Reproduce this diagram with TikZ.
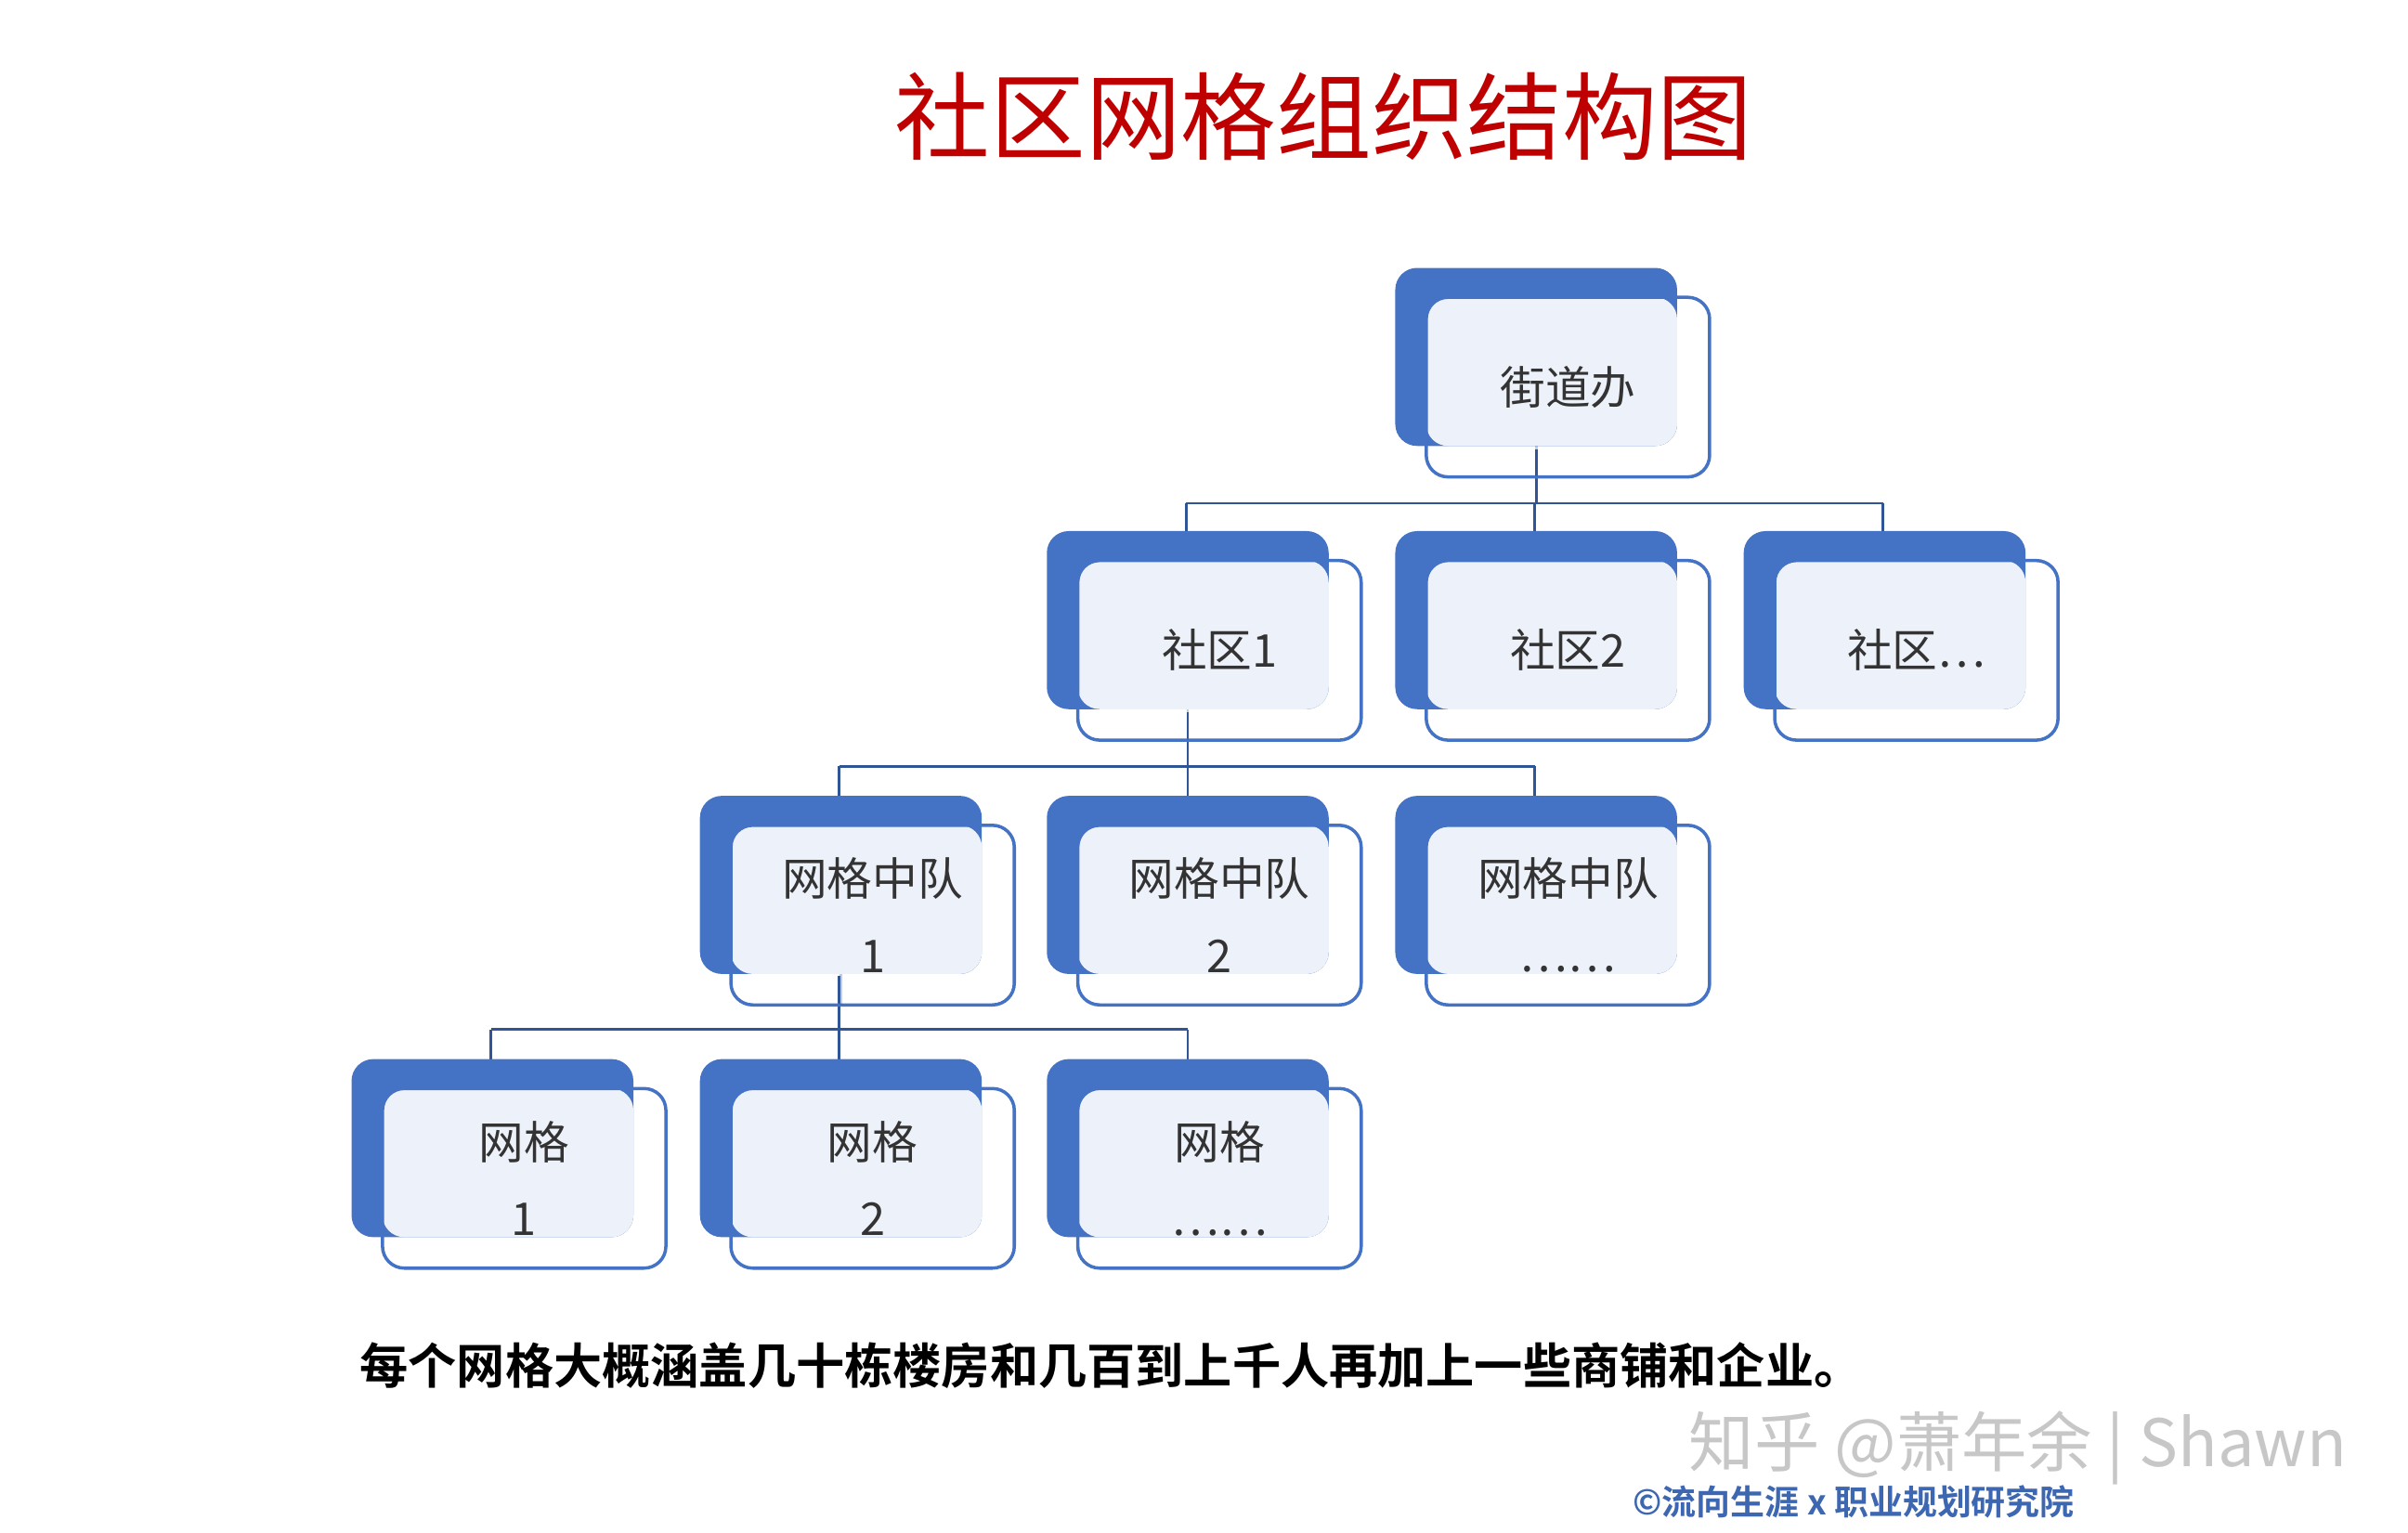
\documentclass[tikz,border=0pt]{standalone}
\usepackage{fontspec}
\setmainfont{Noto Sans CJK SC}
\newfontfamily\cjkb[BoldFont={Noto Sans CJK SC Bold}]{Noto Sans CJK SC}
\definecolor{bb}{HTML}{4472C4}
\definecolor{lf}{HTML}{EDF1F9}
\definecolor{ln}{HTML}{2F5597}
\tikzset{bar/.style={draw=ln,line width=0.5pt}}
\newcommand{\gbox}[4]{% name, x back, y back, text
  \fill[bb,rounded corners=4pt] (#2,#3) rectangle ++(182,115);
  \fill[lf,rounded corners=4pt] (#2+20,#3+19) rectangle ++(162,96);
  \draw[bb,line width=0.6pt,rounded corners=4pt] (#2+20,#3+19) rectangle ++(183,116);
  \node[font=\fontsize{8.3pt}{14pt}\selectfont,align=center,text=black!80] (#1) at (#2+111.5,#3+77) {#4};
  \coordinate (#1t) at (#2+91,#3);
  \coordinate (#1b) at (#2+91,#3+115);
}
\begin{document}
\begin{tikzpicture}[x=0.01cm,y=-0.01cm]
\useasboundingbox (0,0) rectangle (1555,990);
\node[text=red!75!black,font=\fontsize{17.5pt}{22pt}\selectfont] (title) at (855,75) {社区网格组织结构图};
\draw[bar] (992,290) -- (992,325) (766,325) -- (1216,325);
\foreach \x in {766,991,1216} \draw[bar] (\x,325) -- (\x,343);
\draw[bar] (767,460) -- (767,495) (542,495) -- (991,495);
\foreach \x in {542,767,991} \draw[bar] (\x,495) -- (\x,514);
\draw[bar] (542,630) -- (542,665) (317,665) -- (767,665);
\foreach \x in {317,542,767} \draw[bar] (\x,665) -- (\x,684);
\gbox{j}{901}{173}{街道办}
\gbox{s1}{676}{343}{社区1}
\gbox{s2}{901}{343}{社区2}
\gbox{s3}{1126}{343}{社区…}
\gbox{d1}{452}{514}{网格中队\\1}
\gbox{d2}{676}{514}{网格中队\\2}
\gbox{d3}{901}{514}{网格中队\\……}
\gbox{g1}{227}{684}{网格\\1}
\gbox{g2}{452}{684}{网格\\2}
\gbox{g3}{676}{684}{网格\\……}
\foreach \n in {j,s1,d1} \draw[bar,opacity=0.3] (\n b) -- ++(0,20);
\node[anchor=west,font=\cjkb\bfseries\fontsize{8.9pt}{11pt}\selectfont] (cap) at (220,882) {每个网格大概涵盖几十栋楼房和几百到上千人再加上一些商铺和企业。};
\node[anchor=east,text=black!22,font=\fontsize{12pt}{14pt}\selectfont] (wm) at (1528,935) {知乎 @萧年余 | Shawn};
\node[anchor=east,text=bb!90!black,font=\cjkb\bfseries\fontsize{6.3pt}{8pt}\selectfont] (cp) at (1352,970) {©流向生涯 x 职业规划研究院};
\end{tikzpicture}
\end{document}
